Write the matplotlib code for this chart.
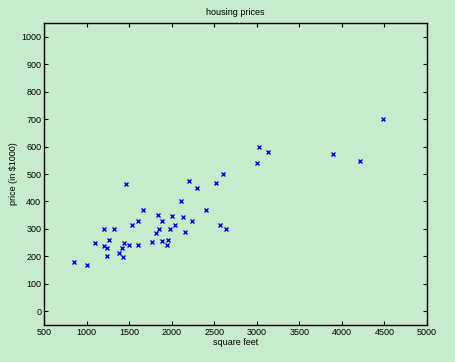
import numpy as np
import matplotlib
matplotlib.use("Agg")
import matplotlib.pyplot as plt

plt.rcParams['font.family'] = ['Liberation Sans', 'DejaVu Sans']

# square feet and price (in $1000)
sqft = [2104, 1600, 2400, 1416, 3000, 1985, 1534, 1427, 1380, 1494,
        1940, 2000, 1890, 4478, 1268, 2300, 1320, 1236, 2609, 3031,
        1767, 1888, 1604, 1962, 3890, 1100, 1458, 2526, 2200, 2637,
        1839, 1000, 2040, 3137, 1811, 1437, 1239, 2132, 4215, 2162,
        1664, 2238, 2567, 1200, 852, 1852, 1203]
price = [399.9, 329.9, 369.0, 232.0, 539.9, 299.9, 314.9, 199.0, 212.0, 242.5,
         240.0, 347.0, 330.0, 699.9, 259.9, 449.9, 299.9, 199.9, 500.0, 599.0,
         252.9, 255.0, 242.9, 259.9, 573.9, 249.9, 464.5, 469.0, 475.0, 299.9,
         349.9, 169.9, 314.9, 579.9, 285.9, 249.9, 229.9, 345.0, 549.0, 287.0,
         368.5, 329.9, 314.0, 299.0, 179.9, 299.9, 239.5]

bg = "#c8ebcc"
fig = plt.figure(figsize=(4.56, 3.62), dpi=100, facecolor=bg)
ax = fig.add_axes([44/456, 1-325/362, 383/456, 302/362])
ax.set_facecolor(bg)

ax.plot(sqft, price, "x", color="blue", markersize=3.5, markeredgewidth=1.0)

ax.set_xlim(500, 5000)
ax.set_ylim(-50, 1050)
ax.set_xticks(np.arange(500, 5001, 500))
ax.set_yticks(np.arange(0, 1001, 100))
ax.tick_params(direction="in", top=True, right=True, length=3, width=0.8,
               labelsize=6.5, pad=2)
for s in ax.spines.values():
    s.set_linewidth(1.0)

ax.set_title("housing prices", fontsize=6.5, pad=6)
ax.set_xlabel("square feet", fontsize=6.5, labelpad=1)
ax.set_ylabel("price (in $1000)", fontsize=6.5, labelpad=2)

fig.savefig("out.png", dpi=100, facecolor=bg)
